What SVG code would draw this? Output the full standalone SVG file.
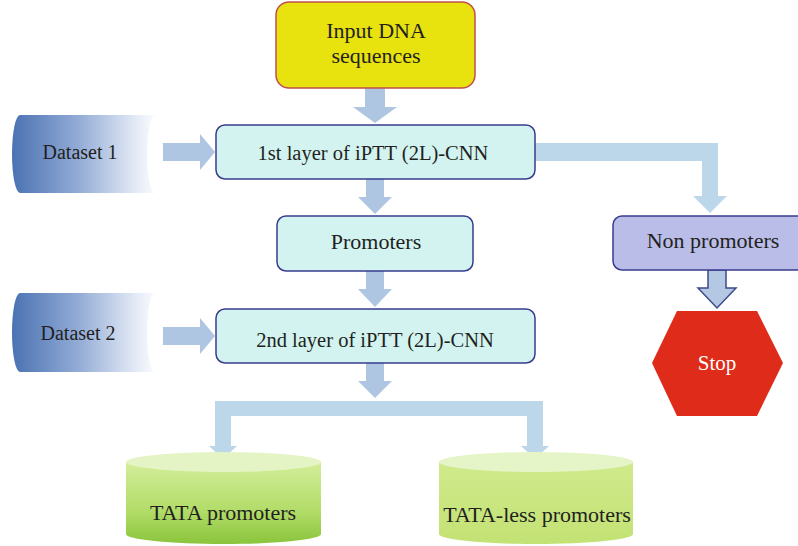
<svg xmlns="http://www.w3.org/2000/svg" width="798" height="546" viewBox="0 0 798 546">
  <defs>
    <linearGradient id="dsGrad" x1="12" y1="0" x2="160" y2="0" gradientUnits="userSpaceOnUse">
      <stop offset="0" stop-color="#4A72B2"/>
      <stop offset="0.45" stop-color="#93ACD6"/>
      <stop offset="0.85" stop-color="#E6ECF7"/>
      <stop offset="1" stop-color="#FFFFFF"/>
    </linearGradient>
    <linearGradient id="greenDark" x1="0" y1="0" x2="0" y2="1">
      <stop offset="0" stop-color="#D3EE9A"/>
      <stop offset="0.6" stop-color="#B2DC68"/>
      <stop offset="1" stop-color="#8AC43C"/>
    </linearGradient>
    <linearGradient id="greenLight" x1="0" y1="0" x2="0" y2="1">
      <stop offset="0" stop-color="#CFEA8C"/>
      <stop offset="1" stop-color="#C3E274"/>
    </linearGradient>
    <style>
      .lbl { font-family: "Liberation Serif", "Times New Roman", serif; font-size: 21px; fill: #231F20; text-anchor: middle; }
      .big { font-size: 22px; }
      .layer { font-size: 20.5px; }
      .proc { fill: #D2F3F0; stroke: #3A3C8E; stroke-width: 1.5; }
      .arrow { fill: #AEC6E2; }
      .elbow { fill: #BCD7E9; }
    </style>
  </defs>

  <!-- connectors -->
  <g id="connectors">
    <!-- input -> layer 1 -->
    <polygon class="arrow" points="365,88 385,88 385,107 397,107 375,123 353,107 365,107"/>
    <!-- dataset 1 -> layer 1 -->
    <polygon class="arrow" points="156,143 200,143 200,134 215,152 200,170 200,161 156,161"/>
    <!-- layer 1 -> promoters -->
    <polygon class="arrow" points="366,179 384,179 384,197 392,197 375,214 358,197 366,197"/>
    <!-- layer 1 -> non promoters -->
    <polygon class="elbow" points="535,143 718,143 718,196 727,196 710,213 693,196 702,196 702,161 535,161"/>
    <!-- promoters -> layer 2 -->
    <polygon class="arrow" points="366,271 384,271 384,289 392,289 375,307 358,289 366,289"/>
    <!-- dataset 2 -> layer 2 -->
    <polygon class="arrow" points="156,327 200,327 200,318 215,336 200,354 200,345 156,345"/>
    <!-- layer 2 -> split -->
    <polygon class="arrow" points="366,363 384,363 384,381 392,381 375,398 358,381 366,381"/>
    <!-- split to both promoter classes -->
    <polygon class="elbow" points="215,401 543,401 543,446 549,446 535,459 521,446 527,446 527,416 231,416 231,446 237,446 223,459 209,446 215,446"/>
    <!-- non promoters -> stop -->
    <polygon points="708,270 726,270 726,288 736,288 717,308 698,288 708,288" fill="#B4C8E4" stroke="#3E4A8C" stroke-width="1.5" stroke-linejoin="miter"/>
  </g>

  <g id="input">
    <rect x="276" y="2" width="199" height="86" rx="13" fill="#E8E20F" stroke="#C0504D" stroke-width="1.5"/>
    <text class="lbl big" x="376" y="38">Input DNA</text>
    <text class="lbl big" x="376" y="63">sequences</text>
  </g>

  <g id="dataset1">
    <path d="M20,115 H155 A8,39 0 0 1 155,193 H20 A8,39 0 0 1 20,115 Z" fill="url(#dsGrad)"/>
    <ellipse cx="155" cy="154" rx="8" ry="39" fill="#FFFFFF"/>
    <text class="lbl" x="80" y="159" style="font-size:20px">Dataset 1</text>
  </g>

  <g id="layer1">
    <rect class="proc" x="216" y="125" width="319" height="54" rx="9"/>
    <text class="lbl layer" x="373" y="160">1st layer of iPTT (2L)-CNN</text>
  </g>

  <g id="promoters">
    <rect class="proc" x="277" y="216" width="196" height="55" rx="9"/>
    <text class="lbl big" x="376" y="249">Promoters</text>
  </g>

  <g id="nonpromoters">
    <rect x="613" y="216" width="200" height="54" rx="9" fill="#B9BDE8" stroke="#3A3C8E" stroke-width="1.5"/>
    <text class="lbl big" x="713" y="248">Non promoters</text>
  </g>

  <g id="dataset2">
    <path d="M20,293 H155 A8,39.5 0 0 1 155,372 H20 A8,39.5 0 0 1 20,293 Z" fill="url(#dsGrad)"/>
    <ellipse cx="155" cy="332.5" rx="8" ry="39.5" fill="#FFFFFF"/>
    <text class="lbl" x="78" y="340" style="font-size:20px">Dataset 2</text>
  </g>

  <g id="layer2">
    <rect class="proc" x="216" y="309" width="319" height="54" rx="9"/>
    <text class="lbl layer" x="375" y="347">2nd layer of iPTT (2L)-CNN</text>
  </g>

  <g id="stop">
    <polygon points="677,311 757,311 783,363 757,416 677,416 652,363" fill="#DE2B1A"/>
    <text class="lbl" x="717" y="370" style="fill:#FFFFFF">Stop</text>
  </g>

  <g id="tata">
    <path d="M126,462 V534 A97.5,10 0 0 0 321,534 V462 Z" fill="url(#greenDark)"/>
    <ellipse cx="223.5" cy="462" rx="97.5" ry="10" fill="#E4F4C4"/>
    <text class="lbl big" x="223" y="520">TATA promoters</text>
  </g>

  <g id="tataless">
    <path d="M439,462 V534 A97,10 0 0 0 633,534 V462 Z" fill="url(#greenLight)"/>
    <ellipse cx="536" cy="462" rx="97" ry="10" fill="#E6F5C8"/>
    <text class="lbl big" x="537" y="522">TATA-less promoters</text>
  </g>
</svg>
